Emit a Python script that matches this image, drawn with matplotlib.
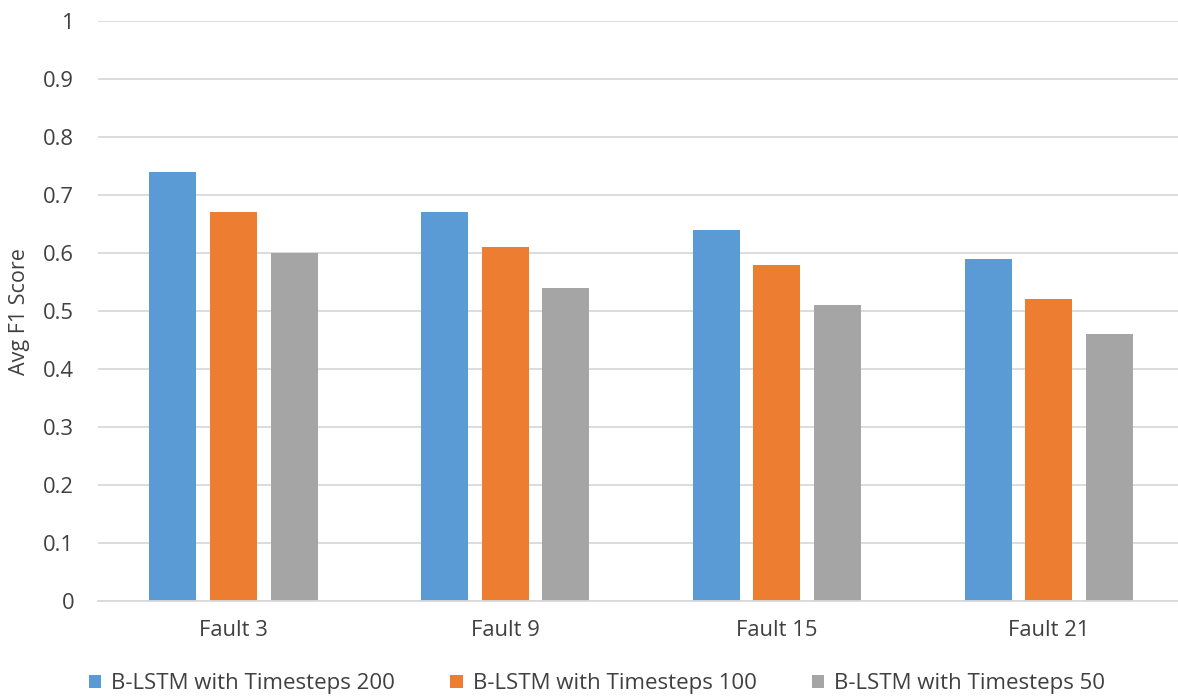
import matplotlib
matplotlib.use("Agg")
import matplotlib.pyplot as plt
import numpy as np

categories = ["Fault 3", "Fault 9", "Fault 15", "Fault 21"]
series_names = ["B-LSTM with Timesteps 200", "B-LSTM with Timesteps 100", "B-LSTM with Timesteps 50"]
ts200 = [0.74, 0.67, 0.64, 0.59]
ts100 = [0.67, 0.61, 0.58, 0.52]
ts50 = [0.60, 0.54, 0.51, 0.46]
y_ticks = [0, 0.1, 0.2, 0.3, 0.4, 0.5, 0.6, 0.7, 0.8, 0.9, 1]
y_tick_labels = ["0", "0.1", "0.2", "0.3", "0.4", "0.5", "0.6", "0.7", "0.8", "0.9", "1"]

colors = ["#5B9BD5", "#ED7D31", "#A5A5A5"]
plt.rcParams["font.family"] = ["Open Sans", "DejaVu Sans"]

W, H = 1178, 698
fig = plt.figure(figsize=(W / 100, H / 100), dpi=100)
# plot area runs slightly past the right edge of the canvas
left_px, right_px, top_px, bottom_px = 97.7, 1184.5, 21, 601
ax = fig.add_axes([left_px / W, 1 - bottom_px / H,
                   (right_px - left_px) / W, (bottom_px - top_px) / H])

x = np.arange(len(categories))
width = 0.173
step = 0.223
for i, (vals, name) in enumerate(zip([ts200, ts100, ts50], series_names)):
    ax.bar(x + (i - 1) * step, vals, width, color=colors[i], label=name, zorder=3)

ax.set_xlim(-0.5, len(categories) - 0.5)
ax.set_ylim(0, 1)
ax.set_yticks(y_ticks)
ax.set_yticklabels(y_tick_labels)
ax.set_xticks(x)
ax.set_xticklabels(categories)
ax.tick_params(axis="both", length=0, labelsize=15.8, colors="#404040")
ax.tick_params(axis="y", pad=17)
ax.tick_params(axis="x", pad=14)
ax.yaxis.grid(True, color="#D9D9D9", linewidth=1.3, zorder=0)
for side in ["top", "right", "left"]:
    ax.spines[side].set_visible(False)
ax.spines["bottom"].set_color("#D9D9D9")
ax.spines["bottom"].set_linewidth(1.3)
ax.spines["bottom"].set_zorder(4)

ax.set_ylabel("Avg F1 Score", fontsize=15.5, color="#404040")
ax.yaxis.set_label_coords(20 / W, 1 - 312 / H, transform=fig.transFigure)
ax.yaxis.label.set_verticalalignment("center")

fig.legend(loc="center", bbox_to_anchor=(597 / W, 1 - 684 / H), ncol=3, frameon=False,
           fontsize=16, handlelength=0.55, handleheight=0.55, handletextpad=0.45,
           columnspacing=2.5, labelcolor="#404040")

fig.savefig("out.png", dpi=100)
